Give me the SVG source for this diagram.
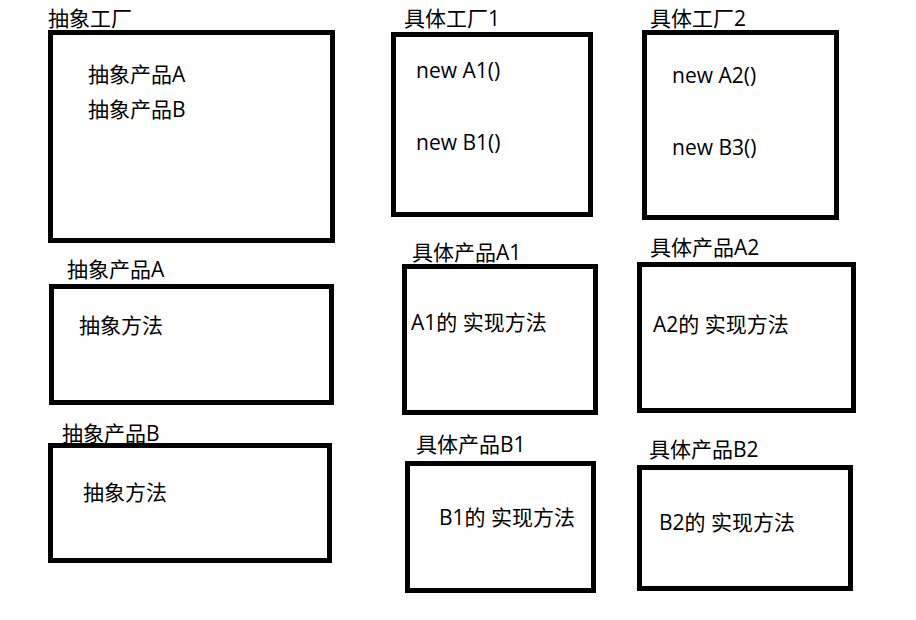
<svg xmlns="http://www.w3.org/2000/svg" width="916" height="620" viewBox="0 0 916 620">
<style>
.box{fill:none;stroke:#000;stroke-width:5}
text{font-family:"Open Sans","Noto Sans CJK SC",sans-serif;font-size:21px;fill:#000}
</style>
<rect width="916" height="620" fill="#fff"/>
<g id="abstract-factory">
<rect class="box" x="50.5" y="32.5" width="282" height="208"/>
<text x="48" y="26">抽象工厂</text>
<text x="88" y="82">抽象产品A</text>
<text x="88" y="117">抽象产品B</text>
</g>
<g id="factory1">
<rect class="box" x="393.5" y="34.5" width="197" height="180"/>
<text x="404" y="26">具体工厂1</text>
<text x="416" y="78">new A1()</text>
<text x="416" y="150">new B1()</text>
</g>
<g id="factory2">
<rect class="box" x="644.5" y="32.5" width="192" height="185"/>
<text x="650" y="26">具体工厂2</text>
<text x="672" y="83">new A2()</text>
<text x="672" y="155">new B3()</text>
</g>
<g id="abstract-product-a">
<rect class="box" x="51.5" y="286.5" width="280" height="116"/>
<text x="67" y="277">抽象产品A</text>
<text x="79" y="333">抽象方法</text>
</g>
<g id="abstract-product-b">
<text x="62" y="441">抽象产品B</text>
<rect class="box" x="50.5" y="445.5" width="279" height="115"/>
<text x="83" y="500">抽象方法</text>
</g>
<g id="product-a1">
<rect class="box" x="404.5" y="266.5" width="191" height="146"/>
<text x="412" y="260">具体产品A1</text>
<text x="411" y="330">A1的 实现方法</text>
</g>
<g id="product-a2">
<rect class="box" x="639.5" y="264.5" width="214" height="146"/>
<text x="650" y="255">具体产品A2</text>
<text x="653" y="332">A2的 实现方法</text>
</g>
<g id="product-b1">
<rect class="box" x="407.5" y="463.5" width="186" height="127"/>
<text x="416" y="452">具体产品B1</text>
<text x="439" y="525">B1的 实现方法</text>
</g>
<g id="product-b2">
<rect class="box" x="639.5" y="467.5" width="211" height="121"/>
<text x="649" y="457">具体产品B2</text>
<text x="659" y="530">B2的 实现方法</text>
</g>
<g id="connectors"></g>
</svg>
